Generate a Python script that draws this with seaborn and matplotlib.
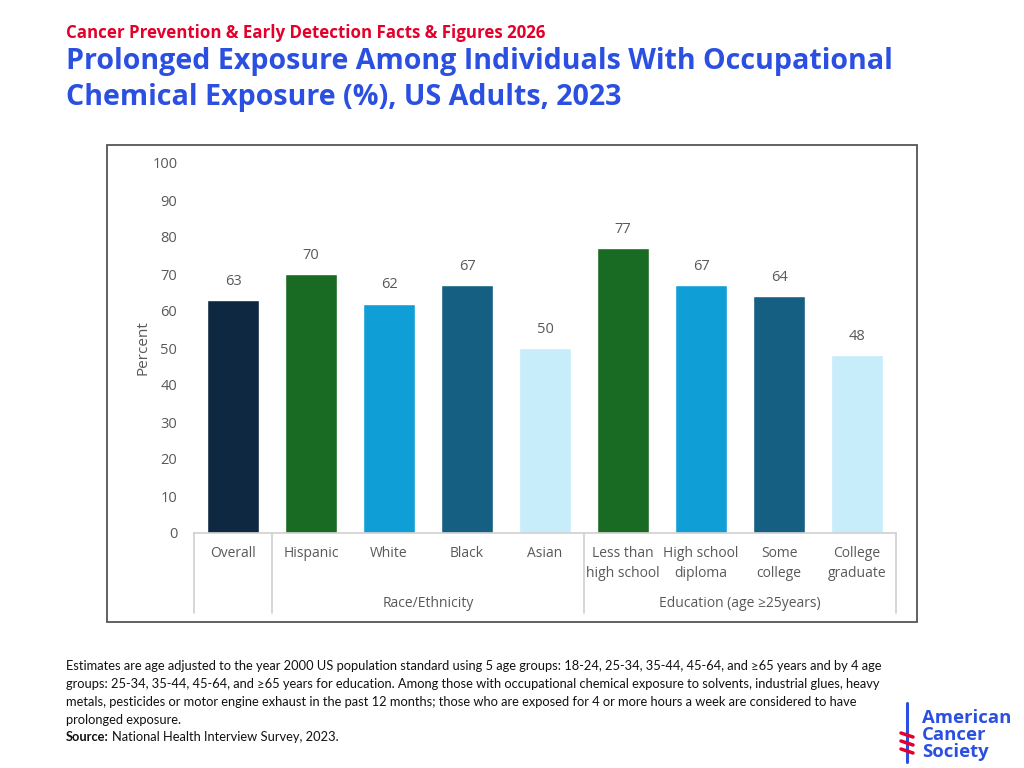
import numpy as np
import pandas as pd
import matplotlib
matplotlib.use("Agg")
import matplotlib.pyplot as plt
import seaborn as sns
from matplotlib.patches import Rectangle

# Data
categories = ["Overall", "Hispanic", "White", "Black", "Asian",
              "Less than\nhigh school", "High school\ndiploma", "Some\ncollege", "College\ngraduate"]
values = [63, 70, 62, 67, 50, 77, 67, 64, 48]
bar_colors = ["#0E2841", "#196B24", "#0F9ED5", "#156082", "#C7ECFA",
              "#196B24", "#0F9ED5", "#156082", "#C7ECFA"]
groups = ["Race/Ethnicity", "Education (age \u226525years)"]
y_ticks = [0, 10, 20, 30, 40, 50, 60, 70, 80, 90, 100]

footnote = [
    "Estimates are age adjusted to the year 2000 US population standard using 5 age groups: 18-24, 25-34, 35-44, 45-64, and \u226565 years and by 4 age",
    "groups: 25-34, 35-44, 45-64, and \u226565 years for education. Among those with occupational chemical exposure to solvents, industrial glues, heavy",
    "metals, pesticides or motor engine exhaust in the past 12 months; those who are exposed for 4 or more hours a week are considered to have",
    "prolonged exposure.",
]

df = pd.DataFrame({"category": categories, "value": values})

sns.set_style("white")
plt.rcParams["font.family"] = ["Open Sans", "DejaVu Sans"]

fig = plt.figure(figsize=(10.24, 7.68), dpi=100)
ax = fig.add_axes([194 / 1024, 1 - 533 / 768, 702 / 1024, 370 / 768])

sns.barplot(data=df, x="category", y="value", hue="category",
            palette=bar_colors, width=0.667, legend=False, ax=ax, saturation=1)

tick_grey = "#595959"
for cont in ax.containers:
    ax.bar_label(cont, padding=8, fontsize=10.5, color=tick_grey)

ax.set_xlim(-0.5, len(categories) - 0.5)
ax.set_ylim(0, 100)
ax.set_yticks(y_ticks)
ax.tick_params(axis="y", length=0, pad=12, labelsize=10.5, labelcolor=tick_grey)
ax.set_xticks([])
ax.set_xlabel("")
ax.set_ylabel("Percent", fontsize=11, color=tick_grey, labelpad=1)
for s in ["top", "right", "left"]:
    ax.spines[s].set_visible(False)
ax.spines["bottom"].set_color("#D0D0D0")
ax.spines["bottom"].set_linewidth(1.2)

trans = ax.get_xaxis_transform()
for i, lab in enumerate(categories):
    ax.text(i, -0.036, lab, transform=trans, ha="center", va="top",
            fontsize=10, color=tick_grey, linespacing=1.4)

# group labels and separators
ax.text(2.5, -0.19, groups[0], transform=trans, ha="center", va="center",
        fontsize=10, color=tick_grey)
ax.text(6.5, -0.19, groups[1], transform=trans, ha="center", va="center",
        fontsize=10, color=tick_grey)
for xs in [-0.5, 0.5, 4.5, 8.5]:
    ax.axvline(xs, ymin=-0.215, ymax=0, color="#D0D0D0", lw=1.2, clip_on=False)

# chart frame
fig.patches.append(Rectangle((107 / 1024, 1 - 622 / 768), 810 / 1024, 477 / 768,
                             transform=fig.transFigure, fill=False,
                             edgecolor="#555555", lw=1.3))

# titles
fig.text(66 / 1024, 1 - 33 / 768, "Cancer Prevention & Early Detection Facts & Figures 2026",
         color="#E4002B", fontsize=12.2, fontweight="bold", family="Open Sans", va="center")
fig.text(66 / 1024, 1 - 62 / 768, "Prolonged Exposure Among Individuals With Occupational",
         color="#2B4FE0", fontsize=20.6, fontweight="bold", family="Open Sans", va="center")
fig.text(66 / 1024, 1 - 97 / 768, "Chemical Exposure (%), US Adults, 2023",
         color="#2B4FE0", fontsize=20.6, fontweight="bold", family="Open Sans", va="center")

# footnote
fs = 9.3
for k, line in enumerate(footnote):
    fig.text(66 / 1024, 1 - (666 + 18 * k) / 768, line, fontsize=fs,
             family="Lato", va="center", color="#111111")
src = fig.text(66 / 1024, 1 - 737 / 768, "Source:", fontsize=fs, family="Lato",
               fontweight="bold", va="center", color="#111111")
fig.canvas.draw()
bb = src.get_window_extent()
fig.text((bb.x1 + 3) / 1024, 1 - 737 / 768, "National Health Interview Survey, 2023.",
         fontsize=fs, family="Lato", va="center", color="#111111")

# logo
logo_blue = "#2B4FE0"
fig.text(922 / 1024, 1 - 735 / 768, "American\nCancer\nSociety", color=logo_blue,
         fontsize=13.3, fontweight="bold", family="Open Sans", va="center",
         linespacing=0.9)
fig.add_artist(plt.Line2D([907 / 1024, 907 / 1024], [1 - 703 / 768, 1 - 762 / 768],
                          color=logo_blue, lw=2.2))
for yy in [733, 741, 749]:
    fig.add_artist(plt.Line2D([901 / 1024, 913 / 1024], [1 - yy / 768, 1 - (yy + 4) / 768],
                              color="#E4002B", lw=2.5))

fig.savefig("out.png", dpi=100)
